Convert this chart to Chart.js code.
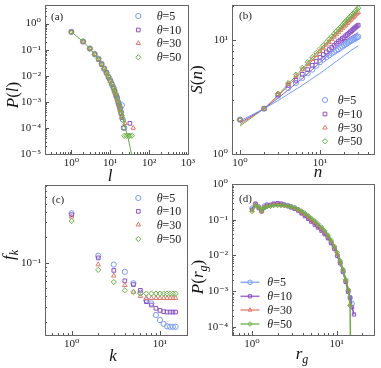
<!DOCTYPE html>
<html><head><meta charset="utf-8">
<script src="https://cdn.jsdelivr.net/npm/chart.js@4.4.1/dist/chart.umd.min.js"></script>
<style>
html,body{margin:0;padding:0;background:#fff;}
#wrap{position:relative;width:381px;height:368px;overflow:hidden;background:#fff}
canvas{position:absolute;left:0;top:0}
</style></head><body>
<div id="wrap">
<canvas id="cA" width="381" height="368"></canvas>
<canvas id="cB" width="381" height="368"></canvas>
<canvas id="cC" width="381" height="368"></canvas>
<canvas id="cD" width="381" height="368"></canvas>
</div>
<script>
// ---------- series ----------
const SERIES = ['5', '10', '30', '50'];
const COLORS = ['#7b9cf2', '#8d53c4', '#e07a6c', '#6cae46'];
const STYLES = ['circle', 'rect', 'triangle', 'rectRot'];

// ---------- panel (a): P(l) ----------
const aL5  = [1,2,3,4,5,6,7,8,9,10,11,12,13,14,15,16,17,18,19,20,21,23];
const aP5  = [0.48,0.205,0.11,0.066,0.045,0.029,0.018,0.0128,0.0090,0.0069,0.0046,0.0037,0.0025,0.0019,0.0014,0.0010,7.6e-4,5.2e-4,4.1e-4,7.4e-4,2.1e-4,1.0e-4];
const aL10 = [1,2,3,4,5,6,7,8,9,10,11,12,13,14,15,16,17,18,19,20,22,32];
const aP10 = [0.48,0.20,0.108,0.068,0.042,0.027,0.0195,0.0135,0.0088,0.0063,0.0050,0.0033,0.0027,0.0017,0.0015,9.2e-4,7e-4,6e-4,3.6e-4,2.5e-4,1.0e-4,1.5e-4];
const aL30 = [1,2,3,4,5,6,7,8,9,10,11,12,13,14,15,16,17,18,19,20,24,39];
const aP30 = [0.47,0.20,0.112,0.066,0.043,0.028,0.0185,0.012,0.0095,0.0062,0.0049,0.0034,0.0024,0.0020,0.0012,0.0011,7e-4,4.8e-4,3.6e-4,2.6e-4,1.5e-4,1.0e-4];
const aL50 = [1,2,3,4,5,6,7,8,9,10,11,12,13,14,15,16,17,18,19,20,21,22,23,26,29,32,36];
const aP50 = [0.48,0.21,0.11,0.067,0.044,0.028,0.019,0.013,0.0093,0.0066,0.0047,0.0035,0.0026,0.0019,0.0014,0.001,7.4e-4,5.5e-4,4e-4,3e-4,2e-4,1e-4,5e-5,5e-5,5e-5,5e-5,5e-5];
const aFitL = [1,2,3,5,7,10,15,20,24,28,32,35.3,40];
const aFitP = [0.48,0.205,0.11,0.043,0.019,0.0064,0.0014,3.3e-4,1.1e-4,4.8e-5,2e-5,1e-5,3e-6];

// ---------- panel (b): S(n) ----------
const bN   = [1,2,3,4,5,6,7,8,9,10,11,12,13,14,15,16,17,18,19,20,21,22,23,24,25,26,27,28,29,30];
const bS5  = [2.0,2.5,3.25,3.8,4.2,4.65,5.1,5.5,5.95,6.4,6.75,7.05,7.35,7.6,7.85,8.1,8.3,8.55,8.75,9.0,9.2,9.4,9.6,9.75,9.95,10.1,10.25,10.4,10.55,10.7];
const bS10 = [2.0,2.5,3.3,4.0,4.43,5.0,5.5,6.0,6.5,7.06,7.45,7.85,8.25,8.6,9.0,9.35,9.7,10.0,10.3,10.5,10.9,11.2,11.5,11.8,12.1,12.4,12.7,13.0,13.25,13.5];
const bS30 = [2.0,2.5,3.35,4.12,4.84,5.51,6.16,6.78,7.38,7.97,8.53,9.08,9.6,10.15,10.67,11.18,11.68,12.17,12.65,13.12,13.58,14.05,14.5,14.95,15.4,15.84,16.3,16.73,17.15,17.6];
const bS50 = [2.0,2.5,3.39,4.2,4.97,5.7,6.4,7.07,7.72,8.36,8.98,9.58,10.17,10.75,11.32,11.89,12.44,12.98,13.52,14.06,14.58,15.1,15.61,16.12,16.62,17.12,17.61,18.09,18.58,19.05];
const bFitN  = [1,2,3,4,5,6,8,10,12,15,20,25,30];
const bFit5  = [1.95,2.5,2.95,3.35,3.7,4.0,4.6,5.1,5.6,6.3,7.3,8.2,8.9];
const bFit10 = [1.88,2.5,3.1,3.65,4.15,4.6,5.5,6.35,7.1,8.2,9.8,10.8,11.6];
const bFit30 = [1.82,2.5,3.25,3.95,4.65,5.3,6.6,7.8,9.0,10.6,13.1,15.3,17.4];
const bFit50 = [1.76,2.5,3.3,4.1,4.85,5.6,7.0,8.3,9.5,11.3,14.0,16.6,19.0];

// ---------- panel (c): f_k ----------
const cK   = [1,2,3,4,5,6,7,8,9,10,11,12,13,14,15];
const cF5  = [0.385,0.121,0.095,0.078,0.057,0.044,0.036,0.033,0.024,0.0209,0.0188,0.0176,0.0174,0.0174,0.0174];
const cF10 = [0.37,0.114,0.081,0.061,0.055,0.047,0.0345,0.0315,0.0288,0.0272,0.0263,0.026,0.026,0.026,0.026];
const cF30 = [0.35,0.095,0.070,0.054,0.045,0.040,0.038,0.038,0.038,0.038,0.038,0.038,0.038,0.038,0.038];
const cF50 = [0.312,0.082,0.059,0.047,0.045,0.043,0.043,0.043,0.043,0.043,0.043,0.043,0.043,0.043,0.043];

// ---------- panel (d): P(r_g) ----------
const dR   = [1.0,1.1,1.2,1.3,1.4,1.5,1.65,1.8,2.0,2.2,2.4,2.65,2.9,3.2,3.5,3.85,4.2,4.6,5.0,5.5,6.0,6.6,7.2,7.9,8.6,9.4,10.2,11.0,11.9,12.8,13.7,14.4,15.2,16.0];
const dP5  = [0.21,0.27,0.23,0.18,0.24,0.26,0.25,0.27,0.28,0.27,0.26,0.25,0.23,0.21,0.19,0.16,0.14,0.12,0.10,0.083,0.068,0.055,0.043,0.032,0.023,0.016,0.0098,0.0062,0.0035,0.0019,0.0010,6.5e-4,4.5e-4,null];
const dP10 = [0.19,0.28,0.21,0.17,0.22,0.25,0.26,0.28,0.29,0.28,0.26,0.24,0.22,0.20,0.18,0.15,0.125,0.105,0.088,0.072,0.06,0.049,0.039,0.03,0.022,0.015,0.0097,0.006,0.0035,0.0018,0.00095,6.5e-4,3.5e-4,2.2e-4];
const dP30 = [0.18,0.26,0.22,0.17,0.23,0.24,0.25,0.26,0.26,0.26,0.25,0.24,0.23,0.21,0.19,0.165,0.14,0.12,0.10,0.085,0.07,0.057,0.045,0.034,0.025,0.017,0.011,0.0066,0.0038,0.002,0.0011,4.2e-4,null,null];
const dP50 = [0.17,0.25,0.22,0.18,0.22,0.23,0.24,0.25,0.25,0.25,0.25,0.24,0.23,0.215,0.195,0.175,0.155,0.13,0.11,0.093,0.077,0.062,0.049,0.037,0.027,0.018,0.012,0.007,0.004,0.0021,0.0011,3.9e-4,1e-9,null];

// ---------- axis ranges ----------
const aXR = [0.21, 1000],   aYR = [1e-5, 5.15];
const bXR = [0.794, 47.3],  bYR = [1, 20.3];
const cXR = [0.5, 20.2],    cYR = [0.0139, 0.833];
const dXR = [0.58, 27.6],   dYR = [5.85e-5, 1];

// ---------- helpers ----------
const SERIF = '"Liberation Serif","DejaVu Serif","Times New Roman",serif';
const SUP = {'0':'⁰','1':'¹','2':'²','3':'³','4':'⁴','5':'⁵','6':'⁶','7':'⁷','8':'⁸','9':'⁹','-':'⁻'};
function powLabel(v) {
  const e = Math.log10(v), r = Math.round(e);
  if (Math.abs(e - r) > 1e-6) return '';
  return '10' + String(r).split('').map(c => SUP[c]).join('');
}
function pts(xs, ys) {
  const out = [];
  xs.forEach((x, i) => { if (ys[i] !== null && ys[i] !== undefined) out.push({x: x, y: ys[i]}); });
  return out;
}
function xAxis(r, h) {
  return {type: 'logarithmic', position: 'bottom', min: r[0], max: r[1],
    grid: {display: false, drawTicks: false}, border: {display: false},
    ticks: {autoSkip: false, maxRotation: 0, minRotation: 0, padding: 3, color: '#222',
      font: {family: SERIF, size: 11}, callback: v => powLabel(v)},
    afterFit: s => { s.height = h; s.paddingLeft = 0; s.paddingRight = 0; }};
}
function yAxis(r, w) {
  return {type: 'logarithmic', position: 'left', min: r[0], max: r[1],
    grid: {display: false, drawTicks: false}, border: {display: false},
    ticks: {autoSkip: false, padding: 4, color: '#222',
      font: {family: SERIF, size: 11}, callback: v => powLabel(v)},
    afterFit: s => { s.width = w; s.paddingTop = 0; s.paddingBottom = 0; }};
}
function scatterSet(i, data, radius) {
  return {label: 'θ=' + SERIES[i], data: data, showLine: false, pointStyle: STYLES[i],
    pointRadius: radius, pointBorderWidth: 1, borderColor: COLORS[i],
    backgroundColor: 'rgba(0,0,0,0)', order: 4 - i};
}
function fontFor(st, size) {
  const it = st.indexOf('i') >= 0 ? 'italic ' : '';
  const sz = st.indexOf('s') >= 0 ? Math.round(size * 0.68) : size;
  return it + sz + 'px ' + SERIF;
}
function rich(ctx, parts, x, y, size, align, rot) {
  ctx.save();
  ctx.translate(x, y);
  if (rot) ctx.rotate(rot);
  ctx.textBaseline = 'alphabetic';
  ctx.textAlign = 'left';
  let total = 0;
  const ws = parts.map(p => { ctx.font = fontFor(p[1], size); const w = ctx.measureText(p[0]).width; total += w; return w; });
  let cx = align === 'center' ? -total / 2 : (align === 'right' ? -total : 0);
  parts.forEach((p, i) => {
    ctx.font = fontFor(p[1], size);
    ctx.fillText(p[0], cx, p[1].indexOf('s') >= 0 ? size * 0.25 : 0);
    cx += ws[i];
  });
  ctx.restore();
}
function marker(ctx, i, x, y, r) {
  ctx.save();
  ctx.strokeStyle = COLORS[i];
  ctx.fillStyle = 'rgba(0,0,0,0)';
  ctx.lineWidth = 1;
  Chart.helpers.drawPoint(ctx, {pointStyle: STYLES[i], radius: r, rotation: 0, borderWidth: 1}, x, y);
  ctx.restore();
}

const decoPlugin = {
  id: 'deco',
  afterDraw(chart, args, o) {
    const ctx = chart.ctx, a = chart.chartArea;
    const xs = chart.scales.x, ys = chart.scales.y;
    ctx.save();
    // inward ticks
    ctx.strokeStyle = '#555';
    ctx.lineWidth = 1;
    const tick = (sc, horiz) => {
      const e0 = Math.floor(Math.log10(sc.min)), e1 = Math.ceil(Math.log10(sc.max));
      for (let e = e0; e <= e1; e++) for (let m = 1; m <= 9; m++) {
        const v = m * Math.pow(10, e);
        if (v < sc.min * 0.9999 || v > sc.max * 1.0001) continue;
        const p = Math.round(sc.getPixelForValue(v)) + 0.5;
        const len = m === 1 ? 4 : 2;
        ctx.beginPath();
        if (horiz) { ctx.moveTo(p, a.bottom); ctx.lineTo(p, a.bottom - len); }
        else { ctx.moveTo(a.left, p); ctx.lineTo(a.left + len, p); }
        ctx.stroke();
      }
    };
    tick(xs, true); tick(ys, false);
    // frame
    ctx.strokeStyle = '#666';
    ctx.strokeRect(Math.round(a.left) + 0.5, Math.round(a.top) + 0.5, Math.round(a.right - a.left), Math.round(a.bottom - a.top));
    // titles
    ctx.fillStyle = '#111';
    rich(ctx, o.yTitle.parts, o.yTitle.x, o.yTitle.y, o.titleSize, 'center', -Math.PI / 2);
    rich(ctx, o.xTitle.parts, o.xTitle.x, o.xTitle.y, o.titleSize, 'center', 0);
    // panel label
    ctx.font = '11px ' + SERIF;
    ctx.textBaseline = 'alphabetic';
    ctx.textAlign = 'left';
    ctx.fillStyle = '#222';
    ctx.fillText(o.label.text, o.label.x, o.label.y);
    // legend
    const L = o.legend;
    for (let i = 0; i < 4; i++) {
      const y = L.ys[i];
      if (L.line) {
        ctx.save(); ctx.strokeStyle = COLORS[i]; ctx.lineWidth = 1.5; ctx.globalAlpha = 0.85;
        ctx.beginPath(); ctx.moveTo(L.x - 9.5, y); ctx.lineTo(L.x + 9.5, y); ctx.stroke(); ctx.restore();
      }
      marker(ctx, i, L.x, y, L.r);
      ctx.fillStyle = '#222';
      rich(ctx, [['θ', 'i'], ['=' + SERIES[i], 'r']], L.tx, y + 4, 12, 'left', 0);
    }
    ctx.restore();
  }
};

function makeChart(id, datasets, xr, yr, pad, deco) {
  return new Chart(document.getElementById(id), {
    type: 'scatter',
    data: {datasets: datasets},
    options: {
      responsive: false, animation: false, devicePixelRatio: 1,
      layout: {padding: pad},
      scales: {x: xAxis(xr, 28), y: yAxis(yr, 40)},
      plugins: {legend: {display: false}, tooltip: {enabled: false}, deco: deco}
    },
    plugins: [decoPlugin]
  });
}

// (a)
const aSets = [
  scatterSet(0, pts(aL5, aP5), 2.6), scatterSet(1, pts(aL10, aP10), 2.6),
  scatterSet(2, pts(aL30, aP30), 2.6), scatterSet(3, pts(aL50, aP50), 2.6),
  {label: 'fit', data: pts(aFitL, aFitP), showLine: true, pointRadius: 0, borderColor: COLORS[3], borderWidth: 1, order: 0}
];
makeChart('cA', aSets, aXR, aYR, {left: 5, right: 193, top: 4, bottom: 186}, {
  titleSize: 17,
  yTitle: {parts: [['P', 'i'], ['(', 'r'], ['l', 'i'], [')', 'r']], x: 17.5, y: 95},
  xTitle: {parts: [['l', 'i']], x: 110, y: 181},
  label: {text: '(a)', x: 51, y: 20},
  legend: {x: 138.3, tx: 156.7, ys: [16, 30, 43.3, 57.3], r: 2.6}
});

// (b)
const bSets = [
  scatterSet(0, pts(bN, bS5), 2.6), scatterSet(1, pts(bN, bS10), 2.6),
  scatterSet(2, pts(bN, bS30), 2.6), scatterSet(3, pts(bN, bS50), 2.6)
];
[bFit5, bFit10, bFit30, bFit50].forEach((f, i) => {
  bSets.push({label: 'fit ' + SERIES[i], data: pts(bFitN, f), showLine: true, pointRadius: 0,
    borderColor: COLORS[i], borderWidth: 1, order: 5});
});
makeChart('cB', bSets, bXR, bYR, {left: 192, right: 7, top: 4, bottom: 186}, {
  titleSize: 17,
  yTitle: {parts: [['S', 'i'], ['(', 'r'], ['n', 'i'], [')', 'r']], x: 202, y: 79.5},
  xTitle: {parts: [['n', 'i']], x: 318, y: 177},
  label: {text: '(b)', x: 239, y: 19},
  legend: {x: 325, tx: 337.7, ys: [100, 114, 127.7, 141.3], r: 2.6}
});

// (c)
const cSets = [
  scatterSet(0, pts(cK, cF5), 2.6), scatterSet(1, pts(cK, cF10), 2.6),
  scatterSet(2, pts(cK, cF30), 2.6), scatterSet(3, pts(cK, cF50), 2.6)
];
makeChart('cC', cSets, cXR, cYR, {left: 5, right: 194, top: 185, bottom: 5}, {
  titleSize: 17,
  yTitle: {parts: [['f', 'i'], ['k', 'is']], x: 14, y: 255},
  xTitle: {parts: [['k', 'i']], x: 113, y: 361},
  label: {text: '(c)', x: 52, y: 203},
  legend: {x: 138.3, tx: 156.7, ys: [198, 211.3, 224.7, 239], r: 2.6}
});

// (d)
const dSets = [dP5, dP10, dP30, dP50].map((p, i) => {
  const s = scatterSet(i, pts(dR, p), 2.3);
  s.showLine = true; s.borderWidth = 1.5;
  return s;
});
makeChart('cD', dSets, dXR, dYR, {left: 192, right: 7, top: 184, bottom: 5}, {
  titleSize: 17,
  yTitle: {parts: [['P', 'i'], ['(', 'r'], ['r', 'i'], ['g', 'is'], [')', 'r']], x: 203, y: 277},
  xTitle: {parts: [['r', 'i'], ['g', 'is']], x: 302, y: 359},
  label: {text: '(d)', x: 239, y: 202},
  legend: {x: 250, tx: 267.3, ys: [282.3, 296.3, 310, 324], r: 2.3, line: true}
});
</script>
</body></html>
